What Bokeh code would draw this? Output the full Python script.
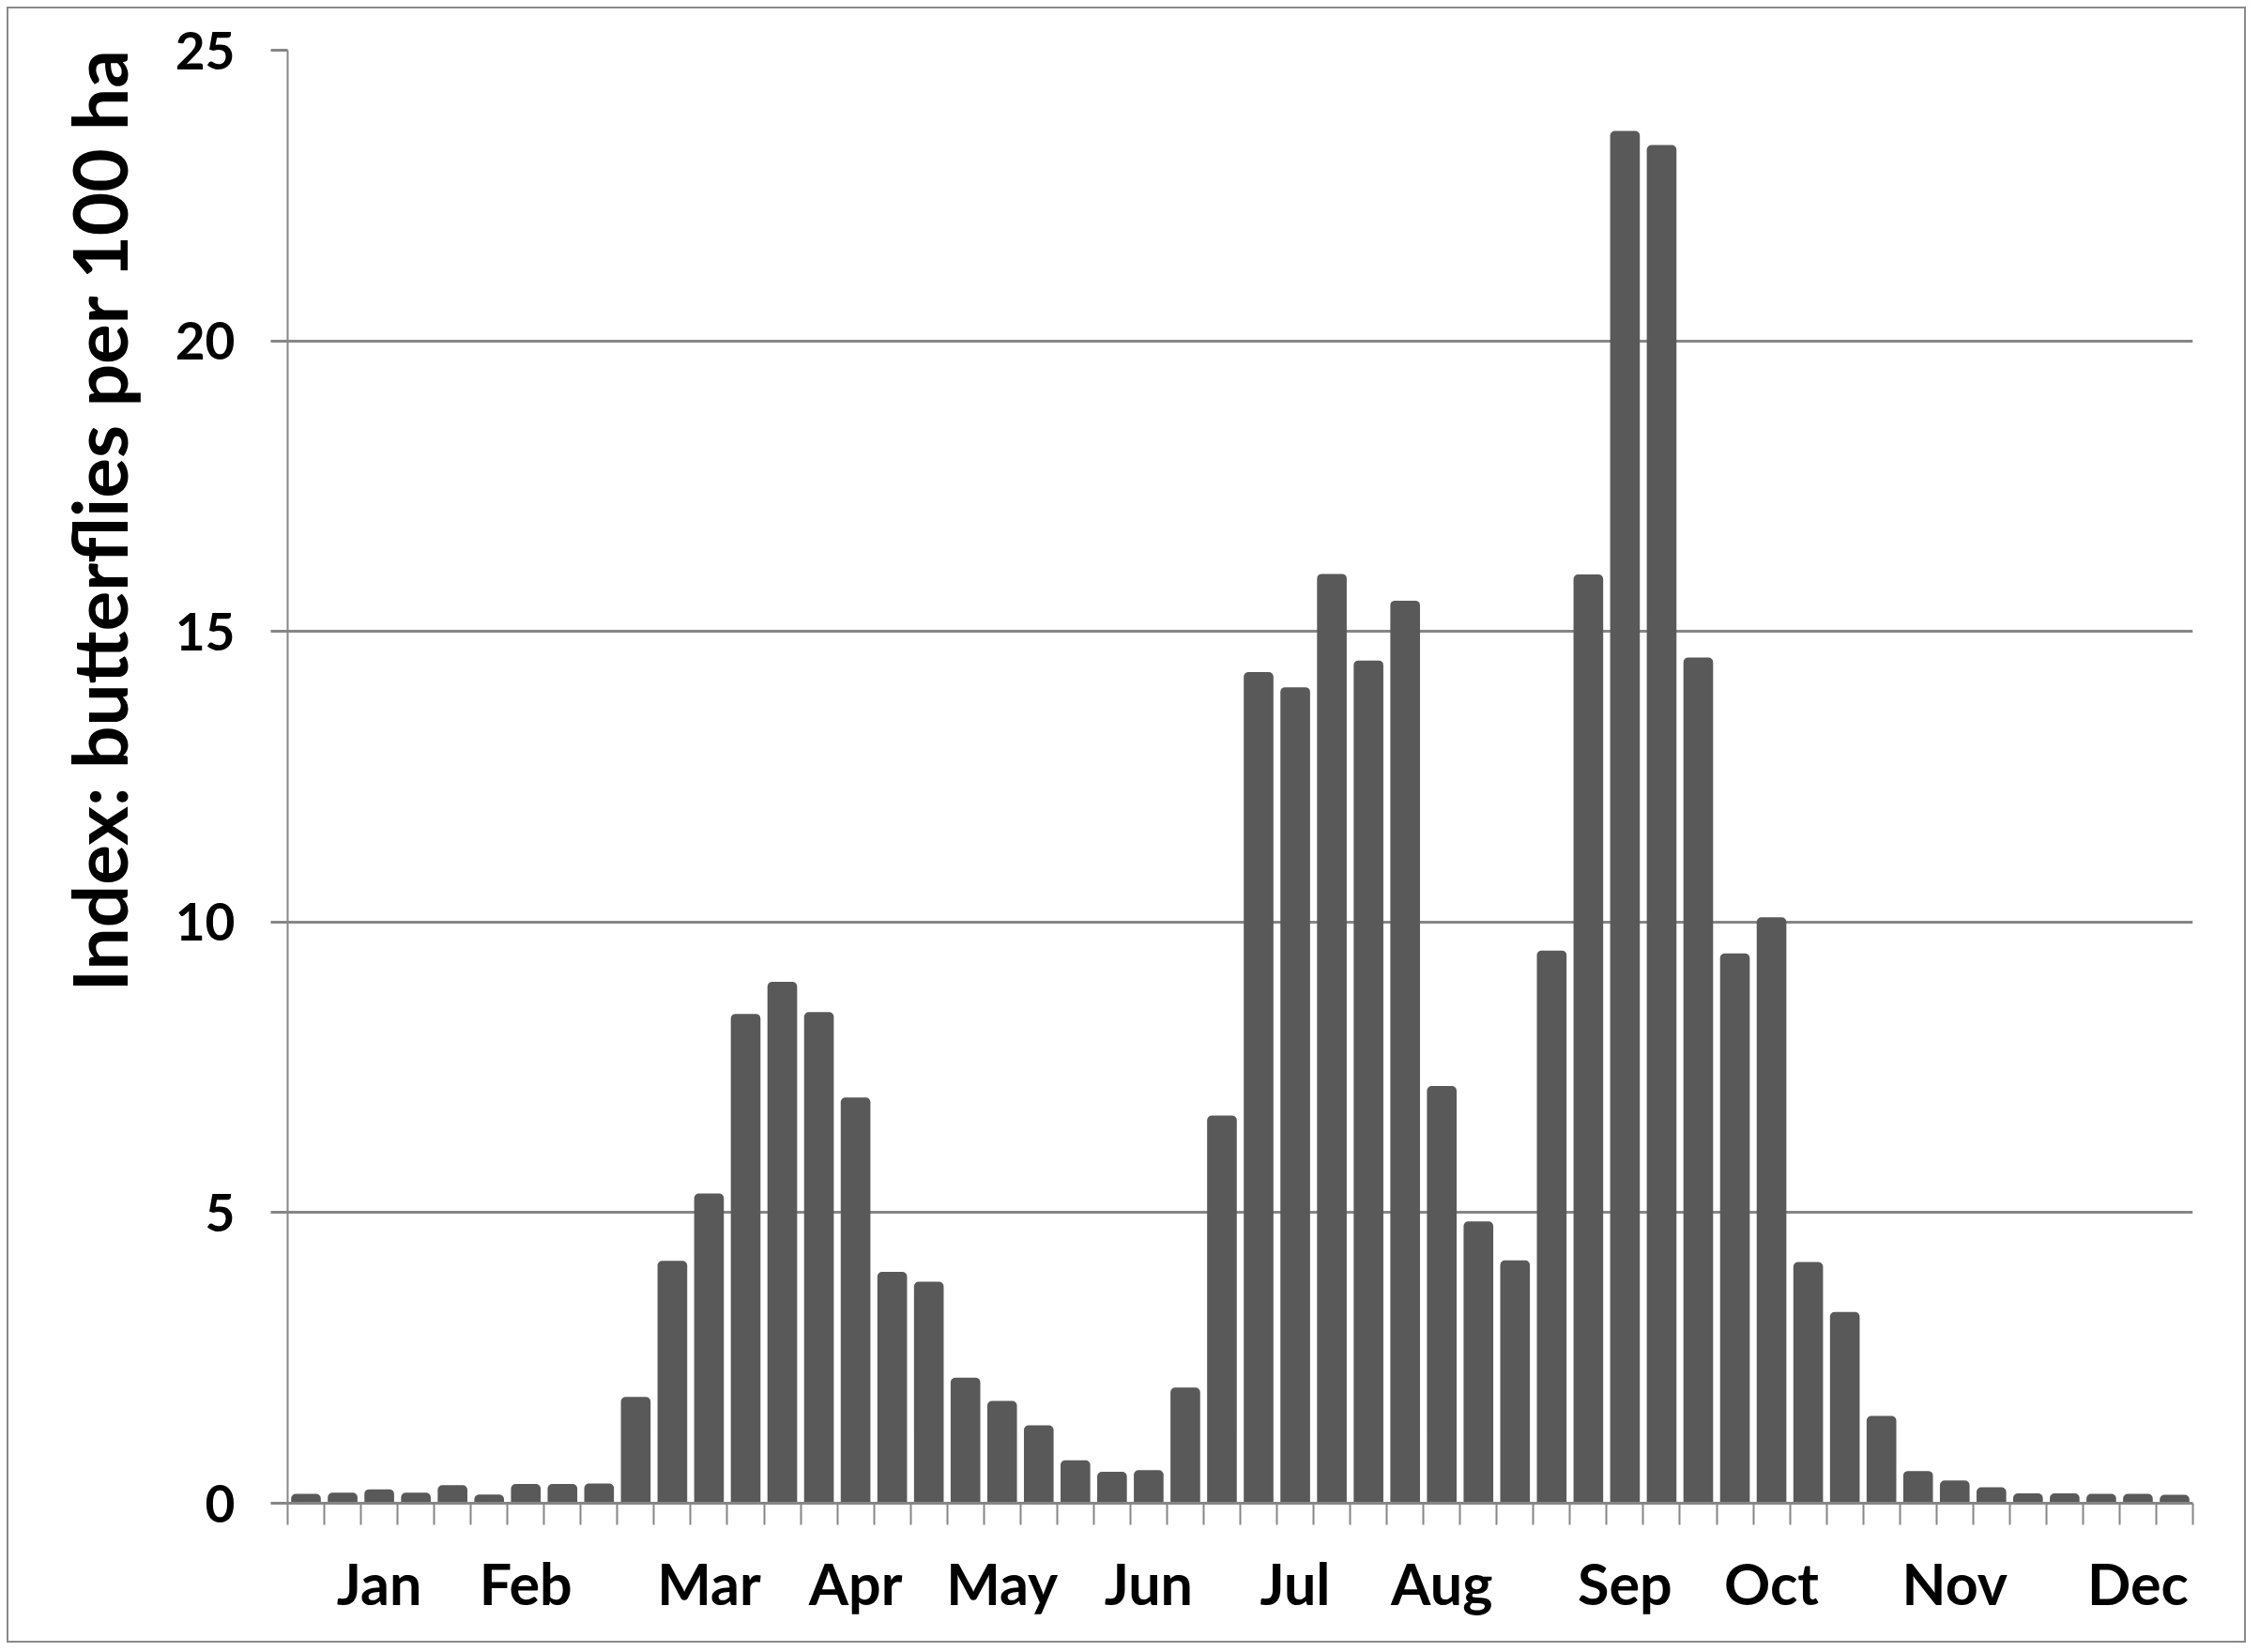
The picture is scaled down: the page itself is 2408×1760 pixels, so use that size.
from bokeh.plotting import figure
from bokeh.models import FixedTicker, Title, Range1d
from bokeh.embed import file_html
from bokeh.resources import INLINE

# ---- data ----
weeks = list(range(52))
values = [0.16, 0.18, 0.24, 0.18, 0.31, 0.15, 0.33, 0.33, 0.34, 1.83,
          4.17, 5.33, 8.42, 8.97, 8.45, 6.98, 3.98, 3.81, 2.16, 1.76,
          1.34, 0.74, 0.54, 0.57, 1.99, 6.67, 14.30, 14.04, 15.99, 14.50,
          15.53, 7.18, 4.85, 4.18, 9.51, 15.98, 23.61, 23.37, 14.55, 9.46,
          10.08, 4.15, 3.29, 1.50, 0.555, 0.39, 0.275, 0.17, 0.17, 0.16,
          0.16, 0.145]
month_names = ["Jan", "Feb", "Mar", "Apr", "May", "Jun",
               "Jul", "Aug", "Sep", "Oct", "Nov", "Dec"]
month_weeks = [2, 6, 11, 15, 19, 23, 27, 31, 36, 40, 45, 50]
y_ticks = [0, 5, 10, 15, 20, 25]
y_title = "Index: butterflies per  100 ha"

GRAY = "#868686"
FONT = "Lato"

p = figure(frame_width=2030, frame_height=1548,
           min_border_left=297, min_border_right=55,
           min_border_top=44, min_border_bottom=147,
           x_range=Range1d(-0.5, 51.5), y_range=Range1d(0, 25),
           output_backend="svg", toolbar_location=None,
           background_fill_color="white", border_fill_color="white")
p.styles = {"border": "2px solid #8a8a8a", "transform": "translate(7px, 7px)"}
p.outline_line_color = None

p.vbar(x=weeks, top=values, width=0.81, fill_color="#595959",
       line_color=None, border_radius=(5, 5, 0, 0))

# y axis
p.yaxis.ticker = FixedTicker(ticks=y_ticks)
p.yaxis.axis_line_color = GRAY
p.yaxis.axis_line_width = 2
p.yaxis.major_tick_line_color = GRAY
p.yaxis.major_tick_line_width = 3
p.yaxis.major_tick_out = 18
p.yaxis.major_tick_in = 0
p.yaxis.minor_tick_line_color = None
p.yaxis.major_label_text_font = FONT
p.yaxis.major_label_text_font_style = "bold"
p.yaxis.major_label_text_font_size = "55px"
p.yaxis.major_label_text_color = "black"
p.yaxis.major_label_standoff = 38

p.ygrid.ticker = FixedTicker(ticks=y_ticks)
p.ygrid.grid_line_color = GRAY
p.ygrid.grid_line_width = 3
p.xgrid.grid_line_color = None

# x axis
boundaries = [w - 0.5 for w in weeks] + [weeks[-1] + 0.5]
p.xaxis.ticker = FixedTicker(ticks=month_weeks, minor_ticks=boundaries)
p.xaxis.major_label_overrides = {w: m for w, m in zip(month_weeks, month_names)}
p.xaxis.axis_line_color = GRAY
p.xaxis.axis_line_width = 3
p.xaxis.major_tick_line_color = None
p.xaxis.major_tick_out = 0
p.xaxis.major_tick_in = 0
p.xaxis.minor_tick_line_color = GRAY
p.xaxis.minor_tick_line_width = 2
p.xaxis.minor_tick_out = 23
p.xaxis.minor_tick_in = 0
p.xaxis.major_label_text_font = FONT
p.xaxis.major_label_text_font_style = "bold"
p.xaxis.major_label_text_font_size = "61px"
p.xaxis.major_label_text_color = "black"
p.xaxis.major_label_standoff = 25

title = Title(text=y_title, align="left", vertical_align="bottom",
              offset=545, standoff=62,
              text_font=FONT, text_font_style="bold",
              text_font_size="80px", text_color="black")
p.add_layout(title, "left")

open("out.html", "w").write(file_html(p, INLINE))
